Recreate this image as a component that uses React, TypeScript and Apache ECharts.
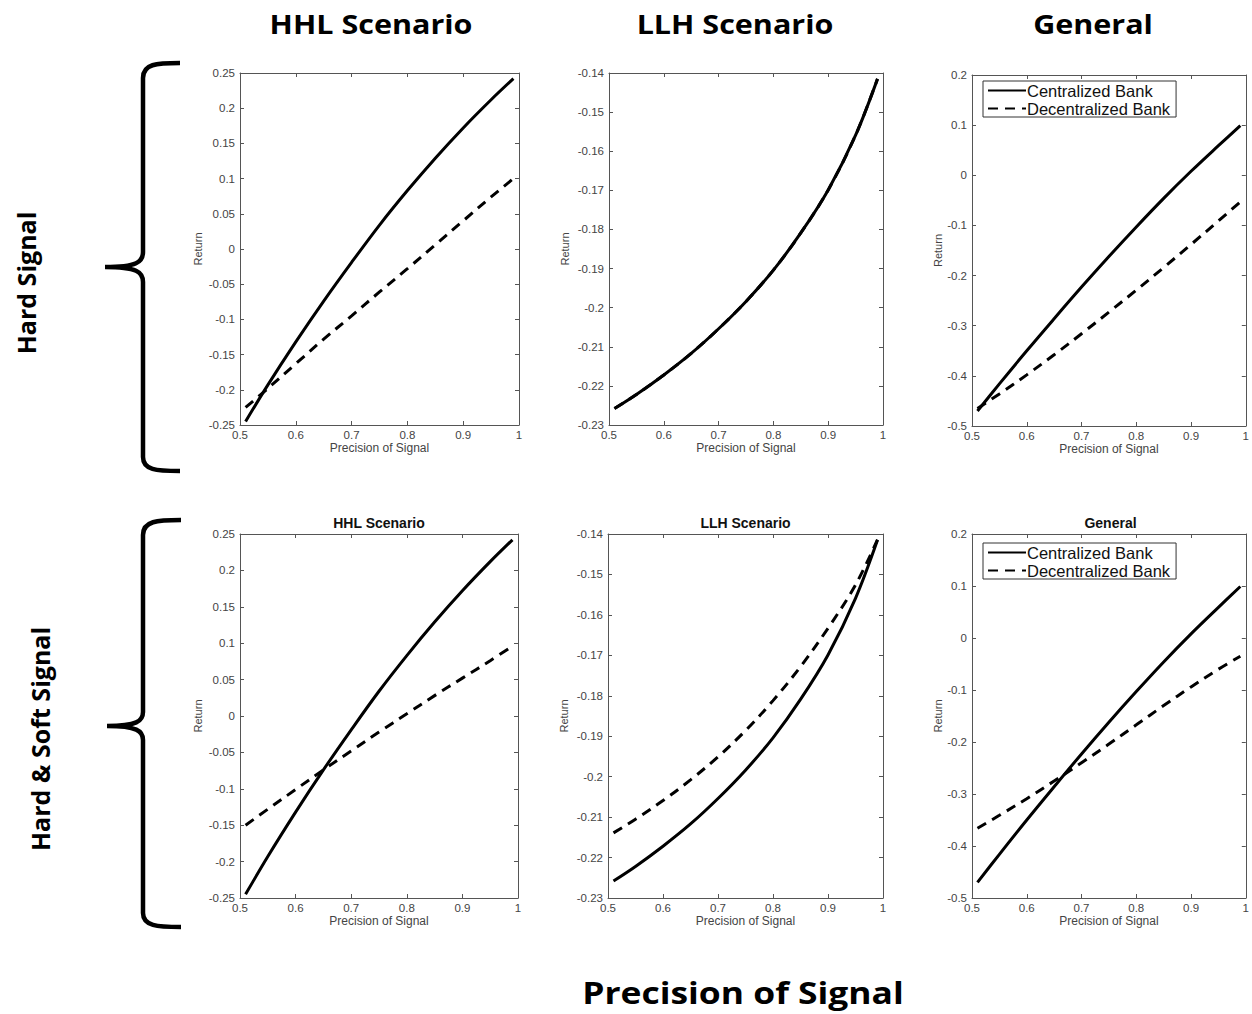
import React, { useEffect, useRef } from "react";
import * as echarts from "echarts";

// ---------- data ----------
const precision = [0.51, 0.55, 0.6, 0.65, 0.7, 0.75, 0.8, 0.85, 0.9, 0.95, 0.99];

const hhlCentralized = [-0.245, -0.193, -0.132, -0.074, -0.019, 0.034, 0.083, 0.129, 0.172, 0.212, 0.242];
const hhlDecentralizedHard = [-0.225, -0.198, -0.163, -0.128, -0.095, -0.061, -0.028, 0.006, 0.04, 0.074, 0.1];
const hhlDecentralizedSoft = [-0.15, -0.128, -0.101, -0.074, -0.048, -0.022, 0.003, 0.028, 0.052, 0.076, 0.096];

const llhCentralized = [-0.2258, -0.2222, -0.2172, -0.2117, -0.2054, -0.1984, -0.1904, -0.1809, -0.1699, -0.1559, -0.1415];
const llhDecentralizedHard = [-0.2258, -0.2222, -0.2172, -0.2117, -0.2054, -0.1984, -0.1904, -0.1809, -0.1699, -0.1559, -0.1415];
const llhDecentralizedSoft = [-0.2139, -0.2105, -0.2059, -0.2008, -0.1951, -0.1886, -0.1812, -0.1728, -0.1633, -0.1526, -0.1414];

const generalCentralized = [-0.47, -0.416, -0.35, -0.286, -0.223, -0.162, -0.103, -0.046, 0.008, 0.059, 0.099];
const generalDecentralizedHard = [-0.465, -0.436, -0.398, -0.358, -0.316, -0.273, -0.229, -0.184, -0.138, -0.091, -0.053];
const generalDecentralizedSoft = [-0.366, -0.341, -0.309, -0.275, -0.24, -0.204, -0.167, -0.13, -0.094, -0.06, -0.035];

const seriesNames = ["Centralized Bank", "Decentralized Bank"];
const columnTitles = ["HHL Scenario", "LLH Scenario", "General"];
const rowTitles = ["Hard Signal", "Hard & Soft Signal"];
const xAxisTitle = "Precision of Signal";
const yAxisTitle = "Return";
const xRange = { min: 0.5, max: 1, interval: 0.1 };
const yRanges = [
  { min: -0.25, max: 0.25, interval: 0.05 },
  { min: -0.23, max: -0.14, interval: 0.01 },
  { min: -0.5, max: 0.2, interval: 0.1 },
];

const panelData = [
  [hhlCentralized, hhlDecentralizedHard],
  [llhCentralized, llhDecentralizedHard],
  [generalCentralized, generalDecentralizedHard],
  [hhlCentralized, hhlDecentralizedSoft],
  [llhCentralized, llhDecentralizedSoft],
  [generalCentralized, generalDecentralizedSoft],
];

// ---------- layout ----------
const panels = [
  { left: 240, top: 73, width: 279, height: 352 },
  { left: 609, top: 73, width: 274, height: 352 },
  { left: 972, top: 75, width: 277, height: 351 },
  { left: 240, top: 534, width: 278, height: 364 },
  { left: 608, top: 534, width: 275, height: 364 },
  { left: 972, top: 534, width: 277, height: 364 },
];
const returnGaps = [37, 39, 29];

echarts.graphic.registerShape(
  "braceTop",
  echarts.graphic.extendPath(
    "M180,63 C156,63 143,64 143,78 L143,252 C143,262 137,267 105,267 C137,267 143,272 143,282 L143,457 C143,470 156,471 180,471",
    {}
  )
);
echarts.graphic.registerShape(
  "braceBottom",
  echarts.graphic.extendPath(
    "M181,520 C157,520 143,521 143,535 L143,712 C143,721 137,726 107,726 C137,726 143,731 143,740 L143,913 C143,926 157,927 181,927",
    {}
  )
);

const AXIS_COLOR = "#555";
const LABEL_COLOR = "#444";
const fmt = (v: number) => String(parseFloat(v.toFixed(3)));

export default function App() {
  const ref = useRef<HTMLDivElement>(null);
  useEffect(() => {
    if (!ref.current) return;
    const chart = echarts.init(ref.current, null, { renderer: "svg" });

    const grid: any[] = [];
    const xAxis: any[] = [];
    const yAxis: any[] = [];
    const series: any[] = [];

    panels.forEach((p, i) => {
      const col = i % 3;
      const yr = yRanges[col];
      grid.push({ left: p.left, top: p.top, width: p.width, height: p.height, show: false });
      const lineCommon = { show: true, onZero: false, lineStyle: { color: AXIS_COLOR, width: 1 } };
      const tickCommon = { show: true, inside: true, length: 4, lineStyle: { color: AXIS_COLOR, width: 1 } };
      xAxis.push({
        type: "value", gridIndex: i, position: "bottom", ...xRange,
        axisLine: lineCommon, axisTick: tickCommon, splitLine: { show: false },
        axisLabel: { color: LABEL_COLOR, fontSize: 11.5, margin: 4, fontFamily: "Liberation Sans", formatter: fmt },
        name: xAxisTitle, nameLocation: "middle", nameGap: 17,
        nameTextStyle: { color: LABEL_COLOR, fontSize: 12, fontFamily: "Liberation Sans" },
      });
      xAxis.push({
        type: "value", gridIndex: i, position: "top", ...xRange,
        axisLine: lineCommon, axisTick: tickCommon, splitLine: { show: false }, axisLabel: { show: false },
      });
      yAxis.push({
        type: "value", gridIndex: i, position: "left", ...yr,
        axisLine: lineCommon, axisTick: tickCommon, splitLine: { show: false },
        axisLabel: { color: LABEL_COLOR, fontSize: 11.5, margin: 5, fontFamily: "Liberation Sans", formatter: fmt },
        name: yAxisTitle, nameLocation: "middle", nameGap: returnGaps[col],
        nameTextStyle: { color: LABEL_COLOR, fontSize: 11, fontFamily: "Liberation Sans" },
      });
      yAxis.push({
        type: "value", gridIndex: i, position: "right", ...yr,
        axisLine: lineCommon, axisTick: tickCommon, splitLine: { show: false }, axisLabel: { show: false },
      });
      const [cent, dec] = panelData[i];
      series.push({
        name: seriesNames[1], type: "line", xAxisIndex: 2 * i, yAxisIndex: 2 * i,
        data: precision.map((x, k) => [x, dec[k]]), smooth: 0.35,
        symbol: "none", lineStyle: { color: "#000", width: 3, type: [10, 7] }, itemStyle: { color: "#000" },
        z: 2,
      });
      series.push({
        name: seriesNames[0], type: "line", xAxisIndex: 2 * i, yAxisIndex: 2 * i,
        data: precision.map((x, k) => [x, cent[k]]), smooth: 0.35,
        symbol: "none", lineStyle: { color: "#000", width: 3, type: "solid" }, itemStyle: { color: "#000" },
        z: 3,
      });
    });

    const legendCommon = {
      orient: "vertical", data: seriesNames, itemWidth: 38, itemHeight: 12, itemGap: 1,
      padding: [1, 6, 0, 4], borderColor: "#333", borderWidth: 1, backgroundColor: "#fff",
      selectedMode: false,
      itemStyle: { opacity: 0 },
      textStyle: { fontSize: 16.5, lineHeight: 16, fontFamily: "Liberation Sans", color: "#111", padding: [0, 0, 0, -4] },
    };

    const graphic: any[] = [];
    const bigX = [371, 735, 1093];
    columnTitles.forEach((t, c) => {
      graphic.push({
        type: "text", x: bigX[c], y: 23.5, scaleX: 1.13,
        style: { text: t, font: 'bold 27px "Open Sans"', fill: "#000", textAlign: "center", textVerticalAlign: "middle" },
      });
      graphic.push({
        type: "text", x: panels[3 + c].left + panels[3 + c].width / 2, y: 523,
        style: { text: t, font: 'bold 14px "Liberation Sans"', fill: "#111", textAlign: "center", textVerticalAlign: "middle" },
      });
    });
    graphic.push({
      type: "text", x: 26, y: 283, rotation: Math.PI / 2,
      style: { text: rowTitles[0], font: 'bold 25px "Open Sans"', fill: "#000", textAlign: "center", textVerticalAlign: "middle" },
    });
    graphic.push({
      type: "text", x: 40, y: 739, rotation: Math.PI / 2,
      style: { text: rowTitles[1], font: 'bold 25px "Open Sans"', fill: "#000", textAlign: "center", textVerticalAlign: "middle" },
    });
    graphic.push({
      type: "text", x: 743, y: 993, scaleX: 1.2,
      style: { text: xAxisTitle, font: 'bold 29.5px "Open Sans"', fill: "#000", textAlign: "center", textVerticalAlign: "middle" },
    });
    graphic.push({ type: "braceTop", x: 0, y: 0, style: { stroke: "#000", lineWidth: 4.5, fill: "none" } });
    graphic.push({ type: "braceBottom", x: 0, y: 0, style: { stroke: "#000", lineWidth: 4.5, fill: "none" } });

    chart.setOption({
      animation: false,
      backgroundColor: "#fff",
      textStyle: { fontFamily: "Liberation Sans" },
      grid, xAxis, yAxis, series,
      legend: [
        { ...legendCommon, left: 983, top: 81 },
        { ...legendCommon, left: 983, top: 543 },
      ],
      graphic,
    });
    return () => chart.dispose();
  }, []);
  return (
    <div
      ref={ref}
      style={{ position: "absolute", left: 0, top: 0, width: 1252, height: 1014, background: "#fff" }}
    />
  );
}
